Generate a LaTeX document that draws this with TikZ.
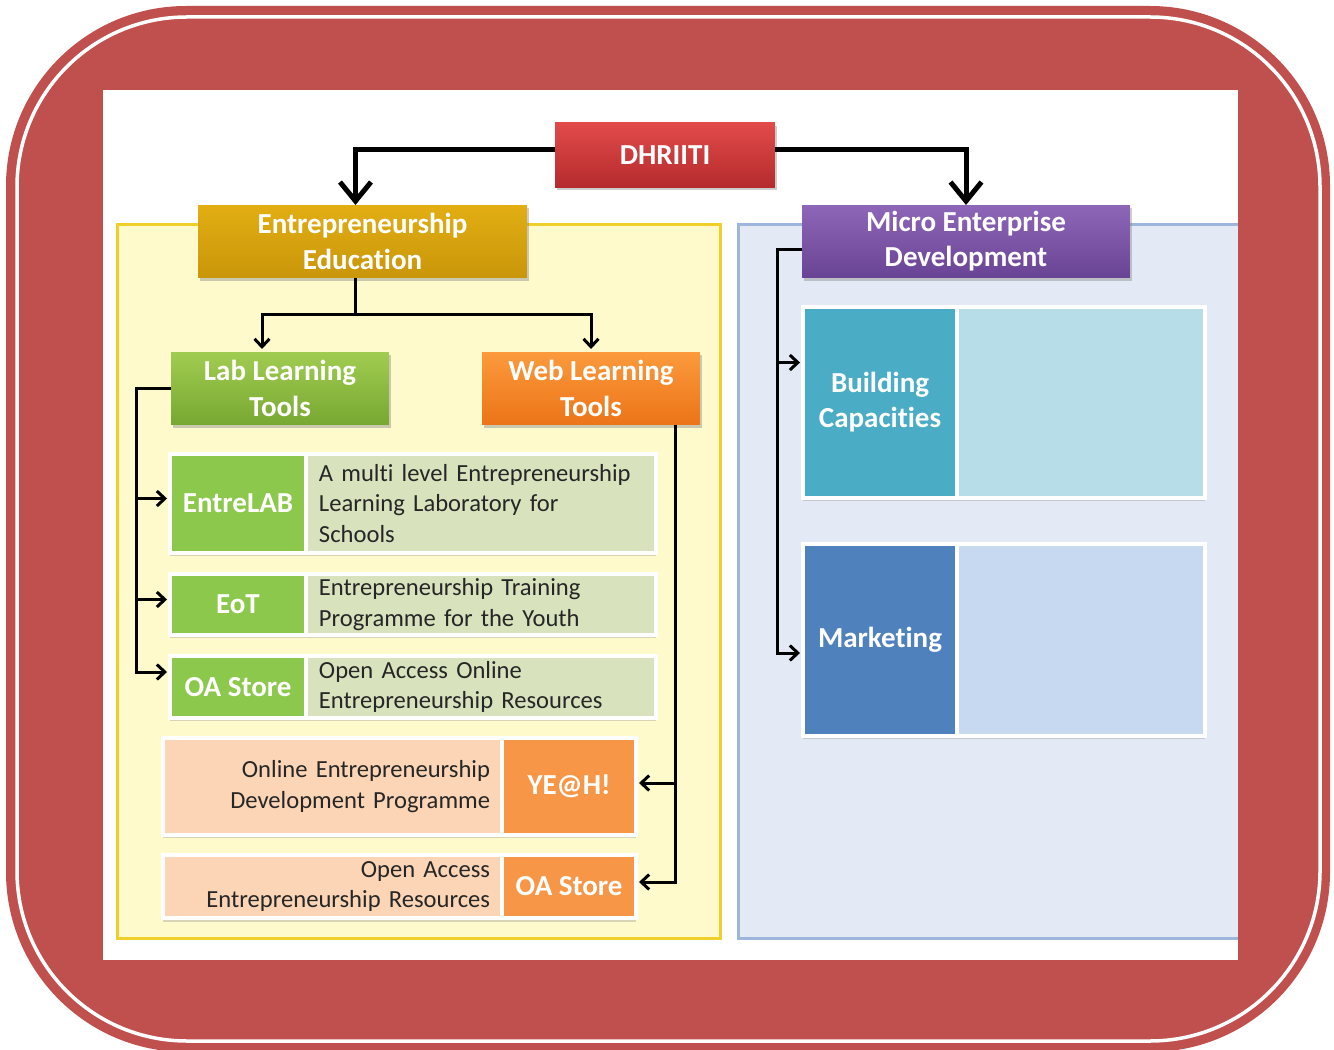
\documentclass[tikz,border=0pt]{standalone}
\usepackage{fontspec}
\setmainfont{Carlito}[Ligatures=NoCommon]
\usetikzlibrary{arrows,arrows.meta,positioning,shadows}

\definecolor{framered}{HTML}{C0504D}
\definecolor{edfill}{HTML}{FEFACC}
\definecolor{edline}{HTML}{EFCF2A}
\definecolor{medfill}{HTML}{E3EAF5}
\definecolor{medline}{HTML}{9DB7DC}
\definecolor{dhrtop}{HTML}{E24A4A}
\definecolor{dhrbot}{HTML}{B52B2D}
\definecolor{eetop}{HTML}{E2AE13}
\definecolor{eebot}{HTML}{C9960A}
\definecolor{medtop}{HTML}{8E66B8}
\definecolor{medbot}{HTML}{6A4494}
\definecolor{labtop}{HTML}{A0CC50}
\definecolor{labbot}{HTML}{78A832}
\definecolor{webtop}{HTML}{FB9A3C}
\definecolor{webbot}{HTML}{EC7418}
\definecolor{gkey}{HTML}{8CC84B}
\definecolor{lgreen}{HTML}{D8E3BE}
\definecolor{okey}{HTML}{F79646}
\definecolor{lpeach}{HTML}{FBD5B5}
\definecolor{tkey}{HTML}{4BACC6}
\definecolor{lteal}{HTML}{B7DDE8}
\definecolor{bkey}{HTML}{4F81BD}
\definecolor{lblue}{HTML}{C6D9F0}

\begin{document}
\begin{tikzpicture}[x=0.02cm, y=-0.02cm,
    head/.style={rectangle, inner sep=0pt, outer sep=0pt, align=center, text=white,
        font=\fontsize{16.5}{20}\selectfont\bfseries,
        drop shadow={opacity=0.4, shadow xshift=0.04cm, shadow yshift=-0.06cm}},
    cell/.style={rectangle, draw=white, line width=0.08cm, inner sep=0pt, outer sep=0pt,
        drop shadow={opacity=0.3, shadow xshift=0cm, shadow yshift=-0.07cm}},
    key/.style={cell, text=white, align=center, font=\fontsize{16.5}{20}\selectfont\bfseries},
    txt/.style={cell, inner xsep=0.26cm, text=black!85, font=\fontsize{14}{17.5}\selectfont},
    bigline/.style={-{Straight Barb[length=0.38cm, width=0.62cm]}, line width=0.1cm},
    link/.style={-{Straight Barb[length=0.16cm, width=0.3cm]}, line width=0.06cm, shorten >=0.06cm}]
    \useasboundingbox (0,0) rectangle (1334,1050);

    \fill[framered, rounded corners=3.6cm] (6,6) rectangle (1330,1052);
    \draw[white, line width=0.07cm, rounded corners=3.4cm] (17,17) rectangle (1320,1041);
    \fill[white] (103,90) rectangle (1238,960);

    \fill[edfill] (117,225) rectangle (720,938);
    \draw[edline, line width=0.06cm] (117,225) rectangle (720,938);
    \fill[medfill] (738,225) rectangle (1238,938);
    \draw[medline, line width=0.06cm] (1238,225) -- (738,225) -- (738,938) -- (1238,938);

    \node[head, top color=dhrtop, bottom color=dhrbot, minimum width=4.4cm, minimum height=1.3cm] (dhriiti) at (665,155) {DHRIITI};
    \node[head, top color=eetop, bottom color=eebot, minimum width=6.58cm, minimum height=1.46cm] (ee) at (362.5,241.5) {Entrepreneurship\\Education};
    \node[head, top color=medtop, bottom color=medbot, minimum width=6.56cm, minimum height=1.46cm] (med) at (966,241.5) {Micro Enterprise\\Development};
    \node[head, top color=labtop, bottom color=labbot, minimum width=4.36cm, minimum height=1.46cm] (lab) at (280,388.5) {Lab Learning\\Tools};
    \node[head, top color=webtop, bottom color=webbot, minimum width=4.36cm, minimum height=1.46cm] (web) at (591,388.5) {Web Learning\\Tools};

    \node[key, fill=gkey, minimum width=2.72cm, minimum height=1.98cm] (entrelab) at (238,503.5) {EntreLAB};
    \node[txt, fill=lgreen, minimum width=7cm, minimum height=1.98cm, text width=6.48cm, align=left, right=0pt of entrelab] (entrelabtxt) {A multi level Entrepreneurship\\Learning Laboratory for\\Schools};
    \node[key, fill=gkey, minimum width=2.72cm, minimum height=1.22cm] (eot) at (238,604.5) {EoT};
    \node[txt, fill=lgreen, minimum width=7cm, minimum height=1.22cm, text width=6.48cm, align=left, right=0pt of eot] (eottxt) {Entrepreneurship Training\\Programme for the Youth};
    \node[key, fill=gkey, minimum width=2.72cm, minimum height=1.24cm] (oalab) at (238,687) {OA Store};
    \node[txt, fill=lgreen, minimum width=7cm, minimum height=1.24cm, text width=6.48cm, align=left, right=0pt of oalab] (oalabtxt) {Open Access Online\\Entrepreneurship Resources};

    \node[key, fill=okey, minimum width=2.68cm, minimum height=1.94cm] (yeah) at (569,786.5) {YE@H!};
    \node[txt, fill=lpeach, minimum width=6.78cm, minimum height=1.94cm, inner xsep=0.24cm, text width=6.3cm, align=right, left=0pt of yeah] (yeahtxt) {Online Entrepreneurship\\Development Programme};
    \node[key, fill=okey, minimum width=2.68cm, minimum height=1.26cm] (oaweb) at (569,886.5) {OA Store};
    \node[txt, fill=lpeach, minimum width=6.78cm, minimum height=1.26cm, inner xsep=0.24cm, text width=6.3cm, align=right, left=0pt of oaweb] (oawebtxt) {Open Access\\Entrepreneurship Resources};

    \node[key, fill=tkey, minimum width=3.08cm, minimum height=3.82cm] (build) at (880,402.5) {Building\\Capacities};
    \node[cell, fill=lteal, minimum width=4.96cm, minimum height=3.82cm, right=0pt of build] (buildtxt) {};
    \node[key, fill=bkey, minimum width=3.08cm, minimum height=3.84cm] (mkt) at (880,640) {Marketing};
    \node[cell, fill=lblue, minimum width=4.96cm, minimum height=3.84cm, right=0pt of mkt] (mkttxt) {};

    \draw[bigline] ([yshift=0.1cm]dhriiti.west) -| ([xshift=-0.14cm]ee.north);
    \draw[bigline] ([yshift=0.1cm]dhriiti.east) -| (med.north);

    \coordinate (split) at (355,315);
    \draw[link] ([xshift=-0.14cm]ee.south) |- (split) -| ([xshift=-0.36cm]lab.north);
    \draw[link] (split) -| (web.north);

    \coordinate (labbus) at (136,0);
    \draw[link] (lab.west) -- (lab.west -| labbus) |- ([yshift=0.1cm]entrelab.west);
    \draw[link] (lab.west) -- (lab.west -| labbus) |- ([yshift=0.1cm]eot.west);
    \draw[link] (lab.west) -- (lab.west -| labbus) |- ([yshift=0.3cm]oalab.west);

    \coordinate (webbus) at (675,0);
    \draw[link] (web.south -| webbus) |- ([yshift=0.07cm]yeah.east);
    \draw[link] (web.south -| webbus) |- ([yshift=0.09cm]oaweb.east);

    \coordinate (medbus) at (777,0);
    \draw[link] ([yshift=-0.17cm]med.west) -- ([yshift=-0.17cm]med.west -| medbus) |- ([yshift=0.8cm]build.west);
    \draw[link] ([yshift=-0.17cm]med.west) -- ([yshift=-0.17cm]med.west -| medbus) |- ([yshift=-0.26cm]mkt.west);
\end{tikzpicture}
\end{document}
